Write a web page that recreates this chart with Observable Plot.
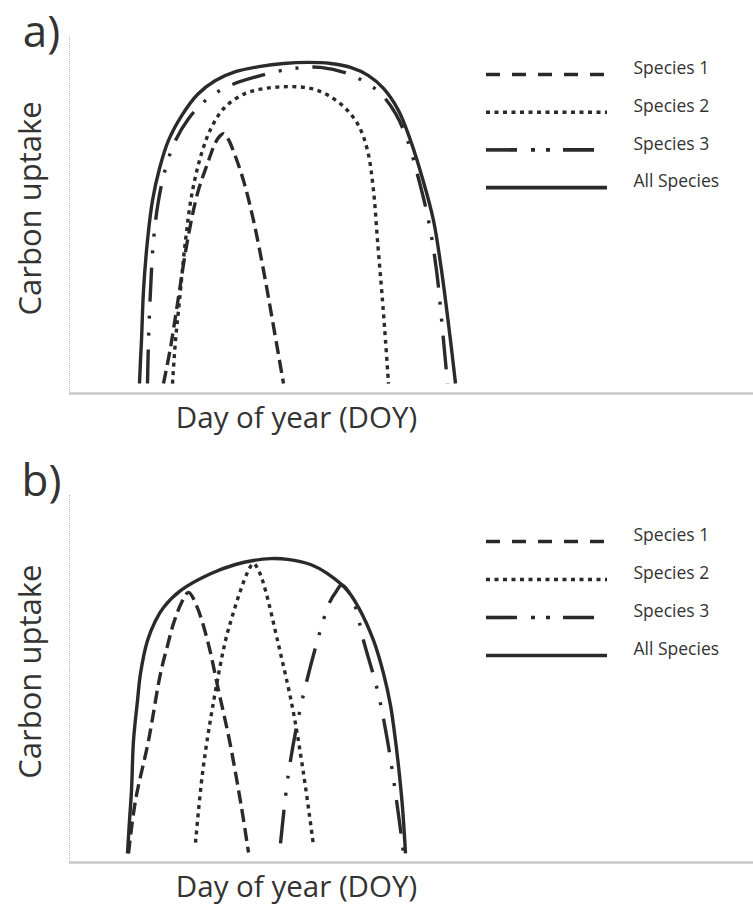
<!DOCTYPE html>
<html>
<head>
<meta charset="utf-8">
<script src="https://cdn.jsdelivr.net/npm/d3@7"></script>
<script src="https://cdn.jsdelivr.net/npm/@observablehq/plot@0.6"></script>
<style>
  html, body { margin: 0; padding: 0; background: #fff; }
  #chart svg { display: block; }
</style>
</head>
<body>
<div id="chart"></div>
<script>
// ---- Data (arbitrary units: x = day of year, y = carbon uptake) ----
const speciesNames = ["Species 1", "Species 2", "Species 3", "All Species"];
const panelTags = ["a)", "b)"];
const xLabel = "Day of year (DOY)";
const yLabel = "Carbon uptake";

// Panel a
const aSpecies1 = [[47,2.8],[50.5,12.9],[54,25.3],[59,43.0],[64,56.2],[69,64.6],[73,70.5],[75,72.2],[77,73.0],[79.5,71.3],[81.5,68.8],[87,59.8],[92,48.6],[97,34.6],[101.5,20.5],[107,2.8]];
const aSpecies2 = [[51.5,2.8],[53,14.9],[55,26.1],[58,43.0],[61.5,57.0],[66.5,68.3],[71.5,75.3],[78,80.6],[88,84.3],[98,85.7],[109.5,86.2],[120.5,85.7],[129.5,83.7],[138,80.1],[144.5,75.3],[149,68.3],[152,57.0],[154,43.0],[156.5,26.1],[158,14.9],[159.5,2.8]];
const aSpecies3 = [[39,2.8],[39.5,14.9],[40.5,28.9],[42,43.0],[44.5,54.2],[48,63.2],[52.5,70.5],[59.5,77.2],[68,82.3],[79,86.2],[95.5,89.3],[112,91.3],[125.5,91.6],[139,89.9],[148,87.4],[155.5,84.3],[163,78.7],[169,71.1],[174.5,60.4],[179.5,48.6],[183.5,34.6],[187,14.9],[189,2.8]];
const aAll = [[35,2.8],[35.5,9.3],[36,14.9],[37,28.9],[39,43.0],[41.5,54.2],[45,63.2],[49.5,71.1],[56.5,78.4],[64,84.0],[73,87.9],[83,90.4],[95.5,91.9],[107,92.7],[119,93.0],[130.5,92.7],[140.5,91.6],[149.5,89.3],[157,85.7],[164.5,79.5],[170.5,71.1],[176.5,60.4],[182,48.6],[186,34.6],[190.5,14.9],[193,2.8]];

// Panel b
const bSpecies1 = [[29.5,2.5],[33,16.9],[39.5,33.2],[45.5,51.5],[49,59.1],[52,65.1],[56,70.8],[59.5,73.6],[63.5,70.0],[69,60.5],[74.5,46.9],[80,33.2],[86,15.0],[89.5,2.7]];
const bSpecies2 = [[63,5.4],[66.5,24.3],[71.5,42.2],[78,60.5],[81.5,67.3],[85.5,74.1],[89,79.0],[92,81.5],[95,79.0],[98,74.1],[104,60.5],[111.5,42.2],[117,24.3],[122,4.6]];
const bSpecies3 = [[105.5,5.2],[109.5,24.3],[115.5,42.2],[124,60.5],[130,70.8],[133.5,74.0],[136,75.6],[139,74.2],[143,69.5],[147,60.5],[154,46.9],[159,33.2],[164,15.0],[167,2.5]];
const bAll = [[29,2.5],[30,11.4],[31,19.6],[32,33.2],[34,44.1],[35.5,51.5],[39,60.5],[43,65.9],[47,69.5],[55.5,74.1],[70.5,78.7],[83,81.2],[92,82.3],[100.5,82.8],[109,82.6],[120.5,81.2],[129,78.7],[139,74.1],[144.5,69.5],[152,60.5],[157,51.5],[160.5,42.8],[163,33.2],[165,23.7],[166.5,15.0],[168,2.5]];

// ---- Styles ----
const ink = "#2a2a2a";
const curveDash = ["13,6", "4,4.5", "34,14,3,14,3,14", null];
const legendDash = ["14,12", "4,4.5", "31,14,4,11,4,13", null];
const font = "'Open Sans', Lato, sans-serif";

function panel({series, tag, height, marginTop, marginBottom, legendTopPx, legendStepPx, tagDy}) {
  const frameH = height - marginTop - marginBottom;
  const pxPerY = frameH / 100;
  const marks = [
    Plot.ruleX([0], {stroke: "#b5b5b5", strokeWidth: 1, strokeDasharray: "1,1"}),
    Plot.ruleY([0], {stroke: "#c8c8c8", strokeWidth: 2.5})
  ];
  series.forEach((s, i) => {
    marks.push(Plot.line(s, {
      x: d => d[0], y: d => d[1], curve: "catmull-rom",
      stroke: ink, strokeWidth: 3.4, strokeLinecap: "butt", strokeLinejoin: "round",
      strokeDasharray: curveDash[i] || undefined
    }));
  });
  // legend (positions computed from frame layout)
  speciesNames.forEach((name, i) => {
    const yVal = (frameH - (legendTopPx + i * legendStepPx - marginTop)) / pxPerY;
    marks.push(Plot.ruleY([name], {
      y: () => yVal, x1: () => 208.5, x2: () => 269,
      stroke: ink, strokeWidth: 3.6, strokeDasharray: legendDash[i] || undefined
    }));
    marks.push(Plot.text([name], {
      x: () => 282, y: () => yVal, dy: -6, text: d => d,
      textAnchor: "start", fontSize: 17.5, fill: "#333", fontFamily: font
    }));
  });
  marks.push(Plot.text([xLabel], {
    x: () => 113.5, frameAnchor: "bottom", dy: 25, text: d => d,
    textAnchor: "middle", lineAnchor: "middle", fontSize: 29.5, fill: "#333", fontFamily: font
  }));
  marks.push(Plot.text([yLabel], {
    y: () => 52, frameAnchor: "left", dx: -38, rotate: -90, text: d => d,
    textAnchor: "middle", lineAnchor: "middle", fontSize: 31, fill: "#333", fontFamily: font
  }));
  marks.push(Plot.text([tag], {
    frameAnchor: "top-left", dx: -28, dy: tagDy, text: d => d,
    textAnchor: "middle", lineAnchor: "middle", fontSize: 44, fill: "#333", fontFamily: font
  }));
  return Plot.plot({
    width: 753, height,
    marginLeft: 69, marginRight: 0, marginTop, marginBottom,
    x: {domain: [0, 342], axis: null},
    y: {domain: [0, 100], axis: null},
    style: {background: "#fff", fontFamily: font, overflow: "visible"},
    marks
  });
}

const root = document.getElementById("chart");
root.appendChild(panel({
  series: [aSpecies1, aSpecies2, aSpecies3, aAll], tag: panelTags[0],
  height: 450, marginTop: 37, marginBottom: 57,
  legendTopPx: 74, legendStepPx: 37.7, tagDy: -5
}));
root.appendChild(panel({
  series: [bSpecies1, bSpecies2, bSpecies3, bAll], tag: panelTags[1],
  height: 459, marginTop: 45, marginBottom: 47,
  legendTopPx: 91, legendStepPx: 38, tagDy: -14
}));
</script>
</body>
</html>
